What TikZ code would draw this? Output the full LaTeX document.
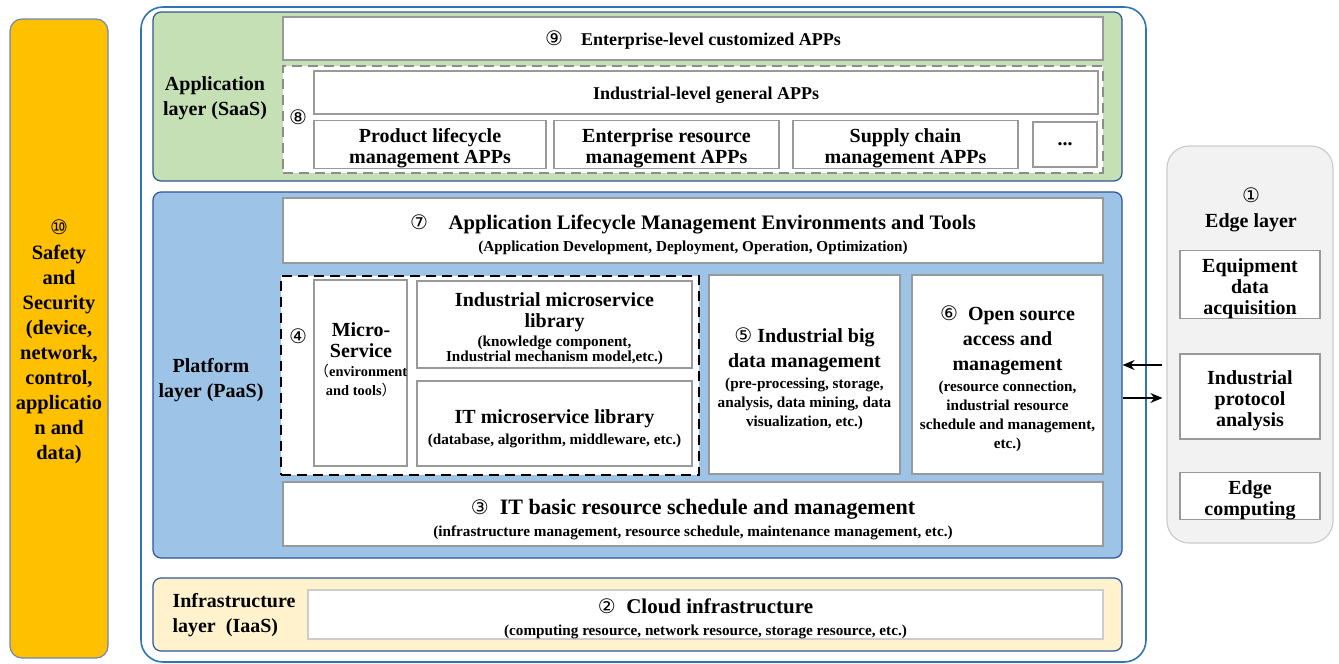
\documentclass[tikz,border=0pt]{standalone}
\usepackage{fontspec}
\setmainfont{Liberation Serif}
\newfontfamily\circfont{DejaVu Sans}
\newfontfamily\cjkfont{Noto Sans CJK SC}
\usetikzlibrary{arrows.meta}
\newcommand\cn[1]{{\circfont\mdseries\fontsize{10}{10}\selectfont #1}}
\newcommand\bigtxt{\fontsize{10}{10.5}\selectfont}
\newcommand\smalltxt{\fontsize{7.6}{9}\selectfont}
\newcommand\lowstrut{\rule{0pt}{11pt}}
\definecolor{safeyellow}{HTML}{FFC000}
\definecolor{saasgreen}{HTML}{C5E0B4}
\definecolor{paasblue}{HTML}{9DC3E6}
\definecolor{iaascream}{HTML}{FFF2CC}
\definecolor{edgegray}{HTML}{F2F2F2}
\definecolor{layerline}{HTML}{2F5597}
\definecolor{outerline}{HTML}{2E75B6}
\tikzset{
  boxsize/.style 2 args={minimum width=#1*0.5pt, minimum height=#2*0.5pt},
  whitebox/.style={draw=black!40, line width=0.7pt, fill=white, inner sep=0pt, align=center, font=\bfseries\bigtxt},
  layerbox/.style={draw=layerline, line width=0.6pt, rounded corners=4pt, inner sep=0pt},
  layertxt/.style={align=center, font=\bfseries\fontsize{10}{12.5}\selectfont},
  dashbox/.style={line width=0.9pt, dash pattern=on 5pt off 3pt, fill=white, inner sep=0pt},
  linkarrow/.style={-{Stealth[length=6pt,width=5pt]}, line width=0.6pt}
}
\begin{document}
\begin{tikzpicture}[x=0.5pt,y=-0.5pt]
  \useasboundingbox (0,0) rectangle (1339,664);
  \node[draw=layerline!70, line width=0.6pt, fill=safeyellow, rounded corners=6pt, inner sep=0pt,
        align=center, font=\bfseries\fontsize{10.2}{12.5}\selectfont, boxsize={98}{639}] (safe) at (59,338.5)
    {\lowstrut\cn{⑩}\\Safety\\and\\Security\\(device,\\network,\\control,\\applicatio\\n and\\data)};
  \node[draw=outerline, line width=0.8pt, fill=white, rounded corners=11pt, boxsize={1005}{655}] (cloud) at (643.5,334.5) {};

  % application layer
  \node[layerbox, fill=saasgreen, boxsize={969}{169}] (saas) at (637.5,96.5) {};
  \node[layertxt] (saaslbl) at (215,98) {Application\\layer (SaaS)};
  \node[whitebox, font=\bfseries\fontsize{9}{10}\selectfont, boxsize={820}{43}] (entapp) at (693,38.5)
    {\rule{0pt}{9pt}\cn{⑨}\quad Enterprise-level customized APPs};
  \node[dashbox, draw=black!45, boxsize={820}{107}] (indapps) at (693,119.5) {};
  \node (n8) at (298,117) {\cn{⑧}};
  \node[whitebox, font=\bfseries\fontsize{9}{10}\selectfont, boxsize={784}{43}] (general) at (706,92.5)
    {\rule{0pt}{9pt}Industrial-level general APPs};
  \node[whitebox, boxsize={232}{45}] (plm) at (430,144.5) {\lowstrut Product lifecycle\\management APPs};
  \node[whitebox, boxsize={225}{45}] (erp) at (666.5,144.5) {\lowstrut Enterprise resource\\management APPs};
  \node[whitebox, boxsize={225}{45}] (scm) at (905.5,144.5) {\lowstrut Supply chain\\management APPs};
  \node[whitebox, boxsize={64}{45}] (more) at (1065,144.5) {...};

  % platform layer
  \node[layerbox, fill=paasblue, boxsize={969}{366}] (paas) at (637.5,375) {};
  \node[layertxt] (paaslbl) at (211,380) {Platform\\layer (PaaS)};
  \node[whitebox, font=\bfseries\fontsize{10.3}{11}\selectfont, boxsize={820}{65}] (alm) at (693,230.5)
    {\rule{0pt}{12pt}\cn{⑦}\quad Application Lifecycle Management Environments and Tools\\
     {\smalltxt (Application Development, Deployment, Operation, Optimization)}};
  \node[dashbox, draw=black, boxsize={418}{199}] (micro) at (490,375.5) {};
  \node (n4) at (298,336) {\cn{④}};
  \node[whitebox, boxsize={93}{186}] (msbox) at (360.5,373) {};
  \node[anchor=north, align=center, font=\bfseries\bigtxt, inner sep=0pt] (mstxt) at (361,322)
    {Micro-\\Service\\[-1pt]
     {\fontsize{7.2}{9}\selectfont{\cjkfont\mdseries （}environment}\\[-1pt]
     {\fontsize{7.2}{9}\selectfont and tools{\cjkfont\mdseries ）}}};
  \node[whitebox, boxsize={275}{87}] (indlib) at (554.5,324.5)
    {\lowstrut Industrial microservice\\library\\[-1pt]
     {\smalltxt (knowledge component,}\\[-3pt]
     {\smalltxt Industrial mechanism model,etc.)}};
  \node[whitebox, boxsize={275}{85}] (itlib) at (554.5,423.5)
    {\rule{0pt}{12pt}IT microservice library\\[0pt]
     {\smalltxt (database, algorithm, middleware, etc.)}};
  \node[whitebox, font=\bfseries\fontsize{10}{12.5}\selectfont, boxsize={191}{199}] (bigdata) at (804.5,374.5)
    {\rule{0pt}{12pt}\cn{⑤} Industrial big\\data management\\[-2pt]
     {\smalltxt (pre-processing, storage,}\\[-3pt]
     {\smalltxt analysis, data mining, data}\\[-3pt]
     {\smalltxt visualization, etc.)}};
  \node[whitebox, font=\bfseries\fontsize{10}{12.5}\selectfont, boxsize={191}{199}] (opensrc) at (1007.5,374.5)
    {\rule{0pt}{12pt}\cn{⑥}\enspace Open source\\access and\\management\\[-2pt]
     {\smalltxt (resource connection,}\\[-3pt]
     {\smalltxt industrial resource}\\[-3pt]
     {\smalltxt schedule and management,}\\[-3pt]
     {\smalltxt etc.)}};
  \node[whitebox, font=\bfseries\fontsize{11}{11}\selectfont, boxsize={820}{64}] (itres) at (693,514)
    {\rule{0pt}{13pt}\cn{③}\enspace IT basic resource schedule and management\\
     {\smalltxt (infrastructure management, resource schedule, maintenance management, etc.)}};

  % infrastructure layer
  \node[layerbox, fill=iaascream, boxsize={969}{73}] (iaas) at (637.5,614.5) {};
  \node[layertxt, align=left] (iaaslbl) at (234,615) {Infrastructure\\layer\enspace(IaaS)};
  \node[whitebox, draw=black!20, font=\bfseries\fontsize{10.5}{11}\selectfont, boxsize={795}{41}] (infra) at (705.5,614.5)
    {\rule{0pt}{12pt}\cn{②}\enspace Cloud infrastructure\\
     {\smalltxt (computing resource, network resource, storage resource, etc.)}};

  % edge layer
  \node[draw=black!20, line width=0.6pt, fill=edgegray, rounded corners=11pt, boxsize={166}{397}] (edge) at (1250,344.5) {};
  \node[layertxt, font=\bfseries\fontsize{10}{12.5}\selectfont] (edgelbl) at (1251,210) {\cn{①}\\Edge layer};
  \node[whitebox, boxsize={140}{65}] (acq) at (1250,284.5) {\lowstrut Equipment\\data\\acquisition};
  \node[whitebox, boxsize={140}{85}] (proto) at (1250,396.5) {\lowstrut Industrial\\protocol\\analysis};
  \node[whitebox, boxsize={140}{46}] (edgecomp) at (1250,496) {\lowstrut Edge\\computing};

  \coordinate (inlink) at (0,365);
  \coordinate (outlink) at (0,398);
  \draw[linkarrow, shorten <=2pt] (edge.west |- inlink) -- (paas.east |- inlink);
  \draw[linkarrow, shorten >=2pt] (paas.east |- outlink) -- (edge.west |- outlink);
\end{tikzpicture}
\end{document}
